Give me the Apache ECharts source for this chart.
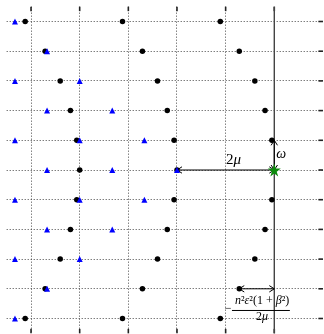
<!DOCTYPE html>
<html><head><meta charset="utf-8">
<script src="https://cdn.jsdelivr.net/npm/echarts@6/dist/echarts.min.js"></script>
<style>html,body{margin:0;padding:0;background:#fff}#c{width:324px;height:334px}</style>
</head><body><div id="c"></div>
<script>
// ---- axis ranges and grid values ----
const xRange = [-5.5, 1];
const yRange = [-5.5, 5.5];
const xGridValues = [-5, -4, -3, -2, -1];
const yGridValues = [-5, -4, -3, -2, -1, 0, 1, 2, 3, 4, 5];
const xTickValues = [-5, -4, -3, -2, -1, 0];
const yTickValues = [-5, -4, -3, -2, -1, 0, 1, 2, 3, 4, 5];
const axisLineX = 0;

// ---- black dots ----
const dotX = [
  -5.12, -3.12, -1.11,
  -4.71, -2.71, -0.72,
  -4.40, -2.40, -0.40,
  -4.19, -2.20, -0.19,
  -4.06, -2.06, -0.05,
  -4.00, -2.00,
  -4.06, -2.06, -0.05,
  -4.19, -2.20, -0.19,
  -4.40, -2.40, -0.40,
  -4.71, -2.71, -0.72,
  -5.12, -3.12, -1.11
];
const dotY = [
  5, 5, 5,
  4, 4, 4,
  3, 3, 3,
  2, 2, 2,
  1, 1, 1,
  0, 0,
  -1, -1, -1,
  -2, -2, -2,
  -3, -3, -3,
  -4, -4, -4,
  -5, -5, -5
];

// ---- blue triangles ----
const triX = [
  -5.33,
  -4.67,
  -5.33, -4.00,
  -4.67, -3.33,
  -5.33, -4.00, -2.67,
  -4.67, -3.33, -2.00,
  -5.33, -4.00, -2.67,
  -4.67, -3.33,
  -5.33, -4.00,
  -4.67,
  -5.33
];
const triY = [
  5,
  4,
  3, 3,
  2, 2,
  1, 1, 1,
  0, 0, 0,
  -1, -1, -1,
  -2, -2,
  -3, -3,
  -4,
  -5
];

// ---- green star ----
const starX = [0];
const starY = [0];

// ---- double arrows (from -> to) ----
const arrowX1 = [-2, 0, -0.72];
const arrowY1 = [0, 0, -4];
const arrowX2 = [0, 0, 0];
const arrowY2 = [0, 1, -4];

// ---- annotation texts ----
const labelTexts = ['2μ', 'ω', 'n²ε²(1 + β²)', '−', '2μ'];
const labelX = [-0.84, 0.14, -0.25, -0.95, -0.25];
const labelY = [0.34, 0.54, -4.42, -4.68, -4.96];
// fraction bar
const barX1 = [-0.87];
const barX2 = [0.32];
const barY = [-4.73];

// ---- styles (kept separate from data) ----
const labelFontSizes = [15, 14, 12, 12, 12];
const serif = '"Liberation Serif", "DejaVu Serif", serif';

function richify(t) {
  return t.replace(/([a-zA-Z\u03b1-\u03c9])/g, '{i|$1}');
}

const chart = echarts.init(document.getElementById('c'), null, {renderer: 'canvas'});

function crisp(v) { return Math.floor(v) + 0.5; }

const gridLineStyle = {stroke: '#444', lineWidth: 1, lineDash: [1, 2]};

const option = {
  animation: false,
  grid: {left: 6.7, right: 1.05, top: 6.65, bottom: 0.65, containLabel: false},
  xAxis: {type: 'value', min: xRange[0], max: xRange[1], show: false},
  yAxis: {type: 'value', min: yRange[0], max: yRange[1], show: false},
  series: [
    { // vertical dotted grid lines
      type: 'custom', z: 1, silent: true,
      data: xGridValues.map(v => [v, 0]),
      renderItem: (params, api) => {
        const v = api.value(0);
        const a = api.coord([v, yRange[0]]), b = api.coord([v, yRange[1]]);
        const x = crisp(a[0]);
        return {type: 'line', shape: {x1: x, y1: b[1], x2: x, y2: a[1]}, style: gridLineStyle};
      }
    },
    { // horizontal dotted grid lines
      type: 'custom', z: 1, silent: true,
      data: yGridValues.map(v => [0, v]),
      renderItem: (params, api) => {
        const v = api.value(1);
        const a = api.coord([xRange[0], v]), b = api.coord([xRange[1], v]);
        const y = crisp(a[1]);
        return {type: 'line', shape: {x1: a[0], y1: y, x2: b[0], y2: y}, style: gridLineStyle};
      }
    },
    { // x ticks (top and bottom)
      type: 'custom', z: 2, silent: true,
      data: xTickValues.map(v => [v, 0]),
      renderItem: (params, api) => {
        const v = api.value(0);
        const a = api.coord([v, yRange[0]]), b = api.coord([v, yRange[1]]);
        const x = a[0];
        const st = {stroke: '#222', lineWidth: 1.6};
        return {type: 'group', children: [
          {type: 'line', shape: {x1: x, y1: b[1], x2: x, y2: b[1] + 4.5}, style: st},
          {type: 'line', shape: {x1: x, y1: a[1], x2: x, y2: a[1] - 4.5}, style: st}
        ]};
      }
    },
    { // y ticks (right)
      type: 'custom', z: 2, silent: true,
      data: yTickValues.map(v => [0, v]),
      renderItem: (params, api) => {
        const v = api.value(1);
        const b = api.coord([xRange[1], v]);
        return {type: 'line', shape: {x1: b[0], y1: b[1], x2: b[0] - 4.5, y2: b[1]},
          style: {stroke: '#222', lineWidth: 1.6}};
      }
    },
    { // vertical axis line
      type: 'custom', z: 2, silent: true,
      data: [[axisLineX, 0]],
      renderItem: (params, api) => {
        const v = api.value(0);
        const a = api.coord([v, yRange[0]]), b = api.coord([v, yRange[1]]);
        return {type: 'line', shape: {x1: a[0], y1: b[1], x2: a[0], y2: a[1]},
          style: {stroke: '#444', lineWidth: 1.4}};
      }
    },
    { // double arrows
      type: 'custom', z: 3, silent: true,
      data: arrowX1.map((v, i) => [v, arrowY1[i], arrowX2[i], arrowY2[i]]),
      encode: {x: [0, 2], y: [1, 3]},
      renderItem: (params, api) => {
        const p1 = api.coord([api.value(0), api.value(1)]);
        const p2 = api.coord([api.value(2), api.value(3)]);
        const dx = p2[0] - p1[0], dy = p2[1] - p1[1];
        const len = Math.hypot(dx, dy);
        const ux = dx / len, uy = dy / len;
        const px = -uy, py = ux;
        const L = 5, W = 3.2;
        const head = (tip, dirx, diry) => {
          const bx = tip[0] - dirx * L, by = tip[1] - diry * L;
          return {type: 'polyline', shape: {points: [
            [bx + px * W, by + py * W], [tip[0], tip[1]], [bx - px * W, by - py * W]
          ]}, style: {stroke: '#000', lineWidth: 1, fill: null}};
        };
        return {type: 'group', children: [
          {type: 'line', shape: {x1: p1[0], y1: p1[1], x2: p2[0], y2: p2[1]},
            style: {stroke: '#000', lineWidth: 1}},
          head(p2, ux, uy),
          head(p1, -ux, -uy)
        ]};
      }
    },
    { // fraction bar
      type: 'custom', z: 3, silent: true,
      data: barX1.map((v, i) => [v, barY[i], barX2[i], barY[i]]),
      encode: {x: [0, 2], y: [1, 3]},
      renderItem: (params, api) => {
        const p1 = api.coord([api.value(0), api.value(1)]);
        const p2 = api.coord([api.value(2), api.value(3)]);
        return {type: 'line', shape: {x1: p1[0], y1: p1[1], x2: p2[0], y2: p2[1]},
          style: {stroke: '#000', lineWidth: 1}};
      }
    },
    {
      type: 'scatter', z: 4, silent: true,
      symbol: 'circle', symbolSize: 5.5,
      itemStyle: {color: '#000', opacity: 1},
      data: dotX.map((v, i) => [v, dotY[i]])
    },
    {
      type: 'scatter', z: 5, silent: true,
      symbol: 'triangle', symbolSize: 6,
      itemStyle: {color: '#0000ff', opacity: 1},
      data: triX.map((v, i) => [v, triY[i]])
    },
    {
      type: 'scatter', z: 6, silent: true,
      symbol: 'path://M50,0 L61,35 L98,35 L68,57 L79,91 L50,70 L21,91 L32,57 L2,35 L39,35 Z',
      symbolSize: 13,
      itemStyle: {color: '#0c8a0c', opacity: 1},
      data: starX.map((v, i) => [v, starY[i]])
    },
    { // text labels
      type: 'custom', z: 7, silent: true,
      data: labelX.map((v, i) => [v, labelY[i], i]),
      renderItem: (params, api) => {
        const i = api.value(2);
        const p = api.coord([api.value(0), api.value(1)]);
        const fs = labelFontSizes[i];
        return {type: 'text', x: p[0], y: p[1], style: {
          text: richify(labelTexts[i]),
          font: fs + 'px ' + serif,
          fill: '#000', align: 'center', verticalAlign: 'middle',
          rich: {i: {fontStyle: 'italic', fontSize: fs, fontFamily: serif, fill: '#000'}}
        }};
      }
    }
  ]
};
chart.setOption(option);
</script>
</body></html>
